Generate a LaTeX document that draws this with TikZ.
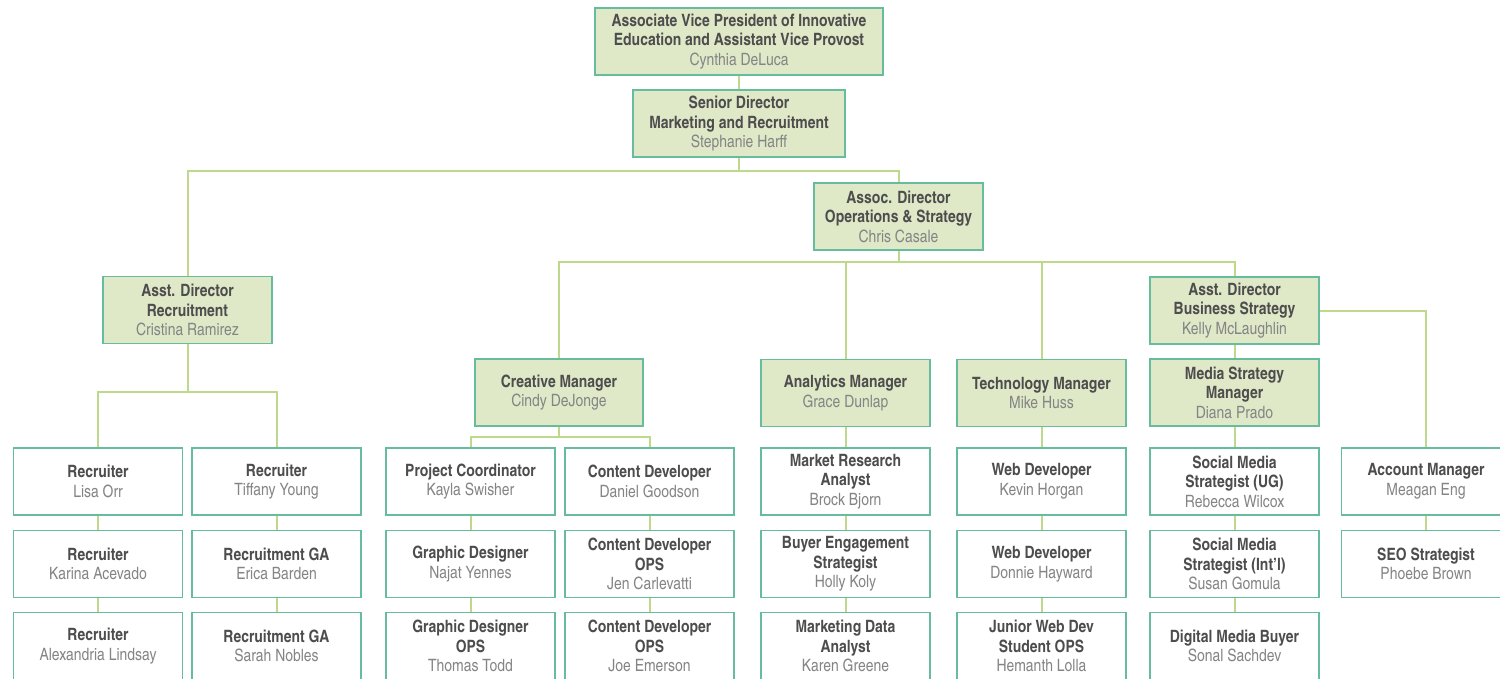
\documentclass[tikz,border=0pt]{standalone}
\usepackage{fontspec}
\setmainfont{texgyreheroscn}[Extension=.otf,UprightFont=*-regular,BoldFont=*-bold,ItalicFont=*-italic,BoldItalicFont=*-bolditalic]
\definecolor{boxline}{HTML}{66BC9C}
\definecolor{boxfill}{HTML}{DFE9C8}
\definecolor{linec}{HTML}{BFD98C}
\definecolor{titlec}{HTML}{4D4D4D}
\definecolor{namec}{HTML}{858585}
\newcommand{\nm}[1]{\textcolor{namec}{\mdseries #1}}
\tikzset{
  box/.style={draw=boxline, line width=1.8pt, minimum width=169pt, minimum height=67pt,
    inner sep=0pt, align=center, text=titlec, font=\fontsize{17}{19.5}\selectfont\bfseries},
  gbox/.style={box, fill=boxfill},
  wbox/.style={box, fill=white},
  conn/.style={draw=linec, line width=2pt},
}
\begin{document}
\begin{tikzpicture}[x=1pt,y=-1pt]
\clip (0,0) rectangle (1500,678);
\fill[white] (0,0) rectangle (1500,678);
% green boxes
\node[gbox, minimum width=288pt] (avp) at (739,41.5) {Associate Vice President of Innovative\\Education and Assistant Vice Provost\\\nm{Cynthia DeLuca}};
\node[gbox, minimum width=212pt] (sd) at (739,123.5) {Senior Director\\Marketing and Recruitment\\\nm{Stephanie Harff}};
\node[gbox] (assoc) at (898.5,216.5) {Assoc. Director\\Operations \& Strategy\\\nm{Chris Casale}};
\node[gbox] (adr) at (187.5,310) {Asst. Director\\Recruitment\\\nm{Cristina Ramirez}};
\node[gbox] (adb) at (1234.5,310.5) {Asst. Director\\Business Strategy\\\nm{Kelly McLaughlin}};
\node[gbox, minimum width=168pt] (cm) at (559,392.5) {Creative Manager\\\nm{Cindy DeJonge}};
\node[gbox] (am) at (845.5,393) {Analytics Manager\\\nm{Grace Dunlap}};
\node[gbox] (tm) at (1041.5,393) {Technology Manager\\\nm{Mike Huss}};
\node[gbox] (ms) at (1234.5,392.5) {Media Strategy\\Manager\\\nm{Diana Prado}};
% white boxes: recruitment
\node[wbox] (r1) at (98,481.5) {Recruiter\\\nm{Lisa Orr}};
\node[wbox] (r2) at (98,564) {Recruiter\\\nm{Karina Acevado}};
\node[wbox] (r3) at (98,646) {Recruiter\\\nm{Alexandria Lindsay}};
\node[wbox] (t1) at (276.5,481.5) {Recruiter\\\nm{Tiffany Young}};
\node[wbox] (t2) at (276.5,564) {Recruitment GA\\\nm{Erica Barden}};
\node[wbox] (t3) at (276.5,646) {Recruitment GA\\\nm{Sarah Nobles}};
% creative
\node[wbox] (pc) at (470.5,481.5) {Project Coordinator\\\nm{Kayla Swisher}};
\node[wbox] (gd) at (470.5,564) {Graphic Designer\\\nm{Najat Yennes}};
\node[wbox] (gdo) at (470.5,646) {Graphic Designer\\OPS\\\nm{Thomas Todd}};
\node[wbox] (cd) at (649.5,481.5) {Content Developer\\\nm{Daniel Goodson}};
\node[wbox] (cdo) at (649.5,564) {Content Developer\\OPS\\\nm{Jen Carlevatti}};
\node[wbox] (cdt) at (649.5,646) {Content Developer\\OPS\\\nm{Joe Emerson}};
% analytics
\node[wbox] (mr) at (845.5,481.5) {Market Research\\Analyst\\\nm{Brock Bjorn}};
\node[wbox] (be) at (845.5,564) {Buyer Engagement\\Strategist\\\nm{Holly Koly}};
\node[wbox] (md) at (845.5,646) {Marketing Data\\Analyst\\\nm{Karen Greene}};
% technology
\node[wbox] (wd) at (1041.5,481.5) {Web Developer\\\nm{Kevin Horgan}};
\node[wbox] (wdt) at (1041.5,564) {Web Developer\\\nm{Donnie Hayward}};
\node[wbox] (jw) at (1041.5,646) {Junior Web Dev\\Student OPS\\\nm{Hemanth Lolla}};
% media
\node[wbox] (su) at (1234.5,481.5) {Social Media\\Strategist (UG)\\\nm{Rebecca Wilcox}};
\node[wbox] (si) at (1234.5,564) {Social Media\\Strategist (Int'l)\\\nm{Susan Gomula}};
\node[wbox] (db) at (1234.5,646) {Digital Media Buyer\\\nm{Sonal Sachdev}};
% account
\node[wbox] (ac) at (1426,481.5) {Account Manager\\\nm{Meagan Eng}};
\node[wbox] (seo) at (1426,564) {SEO Strategist\\\nm{Phoebe Brown}};
% junctions
\coordinate (j1) at (739,171);
\coordinate (j2) at (898.5,262);
\coordinate (j3) at (187.5,392);
\coordinate (j4) at (559,437);
% connectors
\draw[conn] (avp.south) -- (sd.north);
\draw[conn] (sd.south) -- (j1);
\draw[conn] (adr.north) |- (j1) -| (assoc.north);
\draw[conn] (assoc.south) -- (j2);
\draw[conn] (cm.north) |- (j2) -| (adb.north);
\draw[conn] (am.north) -- (am.north |- j2);
\draw[conn] (tm.north) -- (tm.north |- j2);
\draw[conn] (adb.east) -| (ac.north);
\draw[conn] (adb.south) -- (ms.north);
\draw[conn] (ms.south) -- (su.north);
\draw[conn] (su.south) -- (si.north);
\draw[conn] (si.south) -- (db.north);
\draw[conn] (ac.south) -- (seo.north);
\draw[conn] (adr.south) -- (j3);
\draw[conn] (r1.north) |- (j3) -| (t1.north);
\draw[conn] (r1.south) -- (r2.north);
\draw[conn] (r2.south) -- (r3.north);
\draw[conn] (t1.south) -- (t2.north);
\draw[conn] (t2.south) -- (t3.north);
\draw[conn] (cm.south) -- (j4);
\draw[conn] (pc.north) |- (j4) -| (cd.north);
\draw[conn] (pc.south) -- (gd.north);
\draw[conn] (gd.south) -- (gdo.north);
\draw[conn] (cd.south) -- (cdo.north);
\draw[conn] (cdo.south) -- (cdt.north);
\draw[conn] (am.south) -- (mr.north);
\draw[conn] (mr.south) -- (be.north);
\draw[conn] (be.south) -- (md.north);
\draw[conn] (tm.south) -- (wd.north);
\draw[conn] (wd.south) -- (wdt.north);
\draw[conn] (wdt.south) -- (jw.north);
\end{tikzpicture}
\end{document}
